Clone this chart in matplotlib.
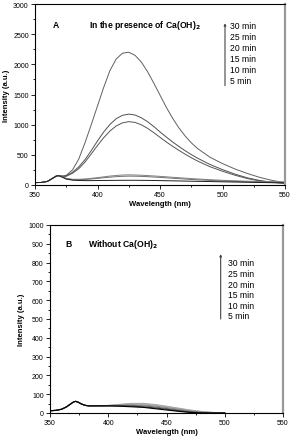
import numpy as np
import matplotlib.pyplot as plt
from matplotlib.ticker import MultipleLocator

plt.rcParams['font.family'] = ['Liberation Sans', 'DejaVu Sans']

# --- Panel A: in the presence of Ca(OH)2 ---
wl_a = [350, 355, 360, 364, 367, 369, 372, 375, 380, 385, 390, 395, 400, 405, 410,
        415, 420, 425, 430, 435, 440, 445, 450, 455, 460, 465, 470, 475, 480, 490,
        500, 510, 520, 530, 540, 550]
a_30 = [40, 42, 60, 110, 148, 155, 145, 160, 250, 430, 700, 1000, 1310, 1620, 1900,
        2090, 2185, 2200, 2150, 2040, 1880, 1690, 1490, 1290, 1110, 950, 815, 700, 605, 460,
        355, 265, 190, 125, 75, 38]
a_25 = [40, 42, 60, 110, 148, 155, 145, 150, 210, 300, 420, 570, 730, 880, 1005,
        1100, 1155, 1175, 1160, 1115, 1050, 970, 880, 795, 715, 640, 570, 505, 445, 340,
        255, 180, 118, 74, 46, 30]
a_20 = [40, 42, 60, 110, 148, 155, 145, 145, 195, 270, 380, 515, 655, 785, 895,
        980, 1030, 1050, 1038, 998, 940, 868, 790, 714, 643, 576, 512, 452, 398, 303,
        228, 162, 106, 67, 42, 30]
a_15 = [40, 42, 60, 110, 148, 155, 135, 110, 95, 95, 100, 110, 122, 135, 148,
        158, 165, 168, 166, 162, 156, 150, 143, 136, 128, 121, 114, 107, 100, 88,
        78, 70, 63, 58, 55, 52]
a_10 = [40, 42, 60, 110, 148, 155, 132, 105, 88, 88, 92, 100, 110, 120, 130,
        138, 144, 147, 146, 143, 138, 132, 126, 119, 112, 105, 98, 92, 86, 76,
        67, 60, 53, 47, 43, 40]
a_5 = [40, 42, 60, 110, 148, 155, 128, 98, 80, 75, 73, 73, 74, 75, 76,
       77, 78, 78, 78, 77, 76, 75, 73, 71, 69, 67, 65, 63, 61, 57,
       53, 49, 45, 42, 38, 35]

# --- Panel B: without Ca(OH)2 ---
wl_b = [350, 355, 360, 364, 367, 370, 372, 374, 377, 380, 383, 390, 400, 410, 420,
        430, 440, 450, 460, 470, 480, 490, 500]
b_30 = [12, 14, 20, 32, 45, 58, 62, 58, 48, 41, 38, 38, 40, 46, 51, 51, 45, 36, 26, 16, 8, 3, 0]
b_25 = [12, 14, 20, 32, 45, 58, 62, 58, 48, 41, 38, 38, 40, 44, 48, 48, 42, 33, 23, 14, 7, 2, 0]
b_20 = [12, 14, 20, 32, 45, 58, 62, 58, 48, 41, 38, 38, 39, 42, 44, 43, 37, 29, 20, 11, 5, 1, 0]
b_15 = [12, 14, 20, 32, 45, 58, 62, 58, 48, 41, 38, 38, 39, 40, 40, 38, 32, 24, 16, 8, 3, 0, 0]
b_10 = [12, 14, 20, 32, 45, 58, 62, 58, 48, 41, 38, 38, 38, 38, 36, 33, 27, 20, 12, 5, 1, 0, 0]
b_5 = [12, 14, 20, 32, 45, 58, 62, 58, 48, 41, 38, 38, 38, 36, 33, 30, 23, 16, 9, 3, 0, 0, 0]

times = ["30 min", "25 min", "20 min", "15 min", "10 min", "5 min"]
colors_a = ['#606060', '#505050', '#555555', '#808080', '#707070', '#202020']
colors_b = ['#a0a0a0', '#b0b0b0', '#909090', '#707070', '#404040', '#000000']


def style_axes(ax, ymax, ymaj, ymin):
    ax.set_xlim(350, 550)
    ax.set_ylim(0, ymax)
    ax.xaxis.set_major_locator(MultipleLocator(50))
    ax.xaxis.set_minor_locator(MultipleLocator(25))
    ax.yaxis.set_major_locator(MultipleLocator(ymaj))
    ax.yaxis.set_minor_locator(MultipleLocator(ymin))
    ax.tick_params(which='both', direction='out', top=False, right=False,
                   labelsize=5, pad=1.5, width=0.6)
    ax.tick_params(which='major', length=3)
    ax.tick_params(which='minor', length=1.5)
    for s in ax.spines.values():
        s.set_linewidth(0.8)
    ax.spines['right'].set_color('#999999')
    ax.spines['right'].set_linewidth(1.6)
    ax.set_xlabel("Wavelength (nm)", fontsize=5.5, fontweight='bold', labelpad=1)
    ax.set_ylabel("Intensity (a.u.)", fontsize=5.5, fontweight='bold', labelpad=2)


fig = plt.figure(figsize=(2.91, 4.39), dpi=100)

ax1 = fig.add_axes([35/291, 1-186/439, 250/291, 181/439])
for ys, c in zip([a_30, a_25, a_20, a_15, a_10, a_5], colors_a):
    ax1.plot(wl_a, ys, color=c, lw=0.7)
style_axes(ax1, 3000, 500, 250)
ax1.text(364, 2668, "A", fontsize=6.2, fontweight='bold', va='center')
ax1.text(393.5, 2668, "In the presence of Ca(OH)$_\\mathbf{2}$", fontsize=6.2,
         fontweight='bold', va='center')
ax1.annotate("", xy=(502, 2680), xytext=(502, 1646),
             arrowprops=dict(arrowstyle='-|>', color='#444444', lw=0.8,
                             mutation_scale=3, shrinkA=0, shrinkB=0))
ya = np.linspace(2640, 1729, len(times))
for t, y in zip(times, ya):
    ax1.text(506, y, t, fontsize=6.2, va='center')

ax2 = fig.add_axes([50/291, 1-414/439, 233/291, 188/439])
for ys, c in zip([b_30, b_25, b_20, b_15, b_10, b_5], colors_b):
    ax2.plot(wl_b, ys, color=c, lw=0.8)
style_axes(ax2, 1000, 100, 50)
ax2.text(363.5, 904, "B", fontsize=6.2, fontweight='bold', va='center')
ax2.text(382.3, 904, "Without Ca(OH)$_\\mathbf{2}$", fontsize=6.2,
         fontweight='bold', va='center')
ax2.annotate("", xy=(496.5, 845), xytext=(496.5, 500),
             arrowprops=dict(arrowstyle='-|>', color='#444444', lw=0.8,
                             mutation_scale=3, shrinkA=0, shrinkB=0))
yb = np.linspace(798, 518, len(times))
for t, y in zip(times, yb):
    ax2.text(503, y, t, fontsize=6.2, va='center')

fig.savefig("out.png", dpi=100)
